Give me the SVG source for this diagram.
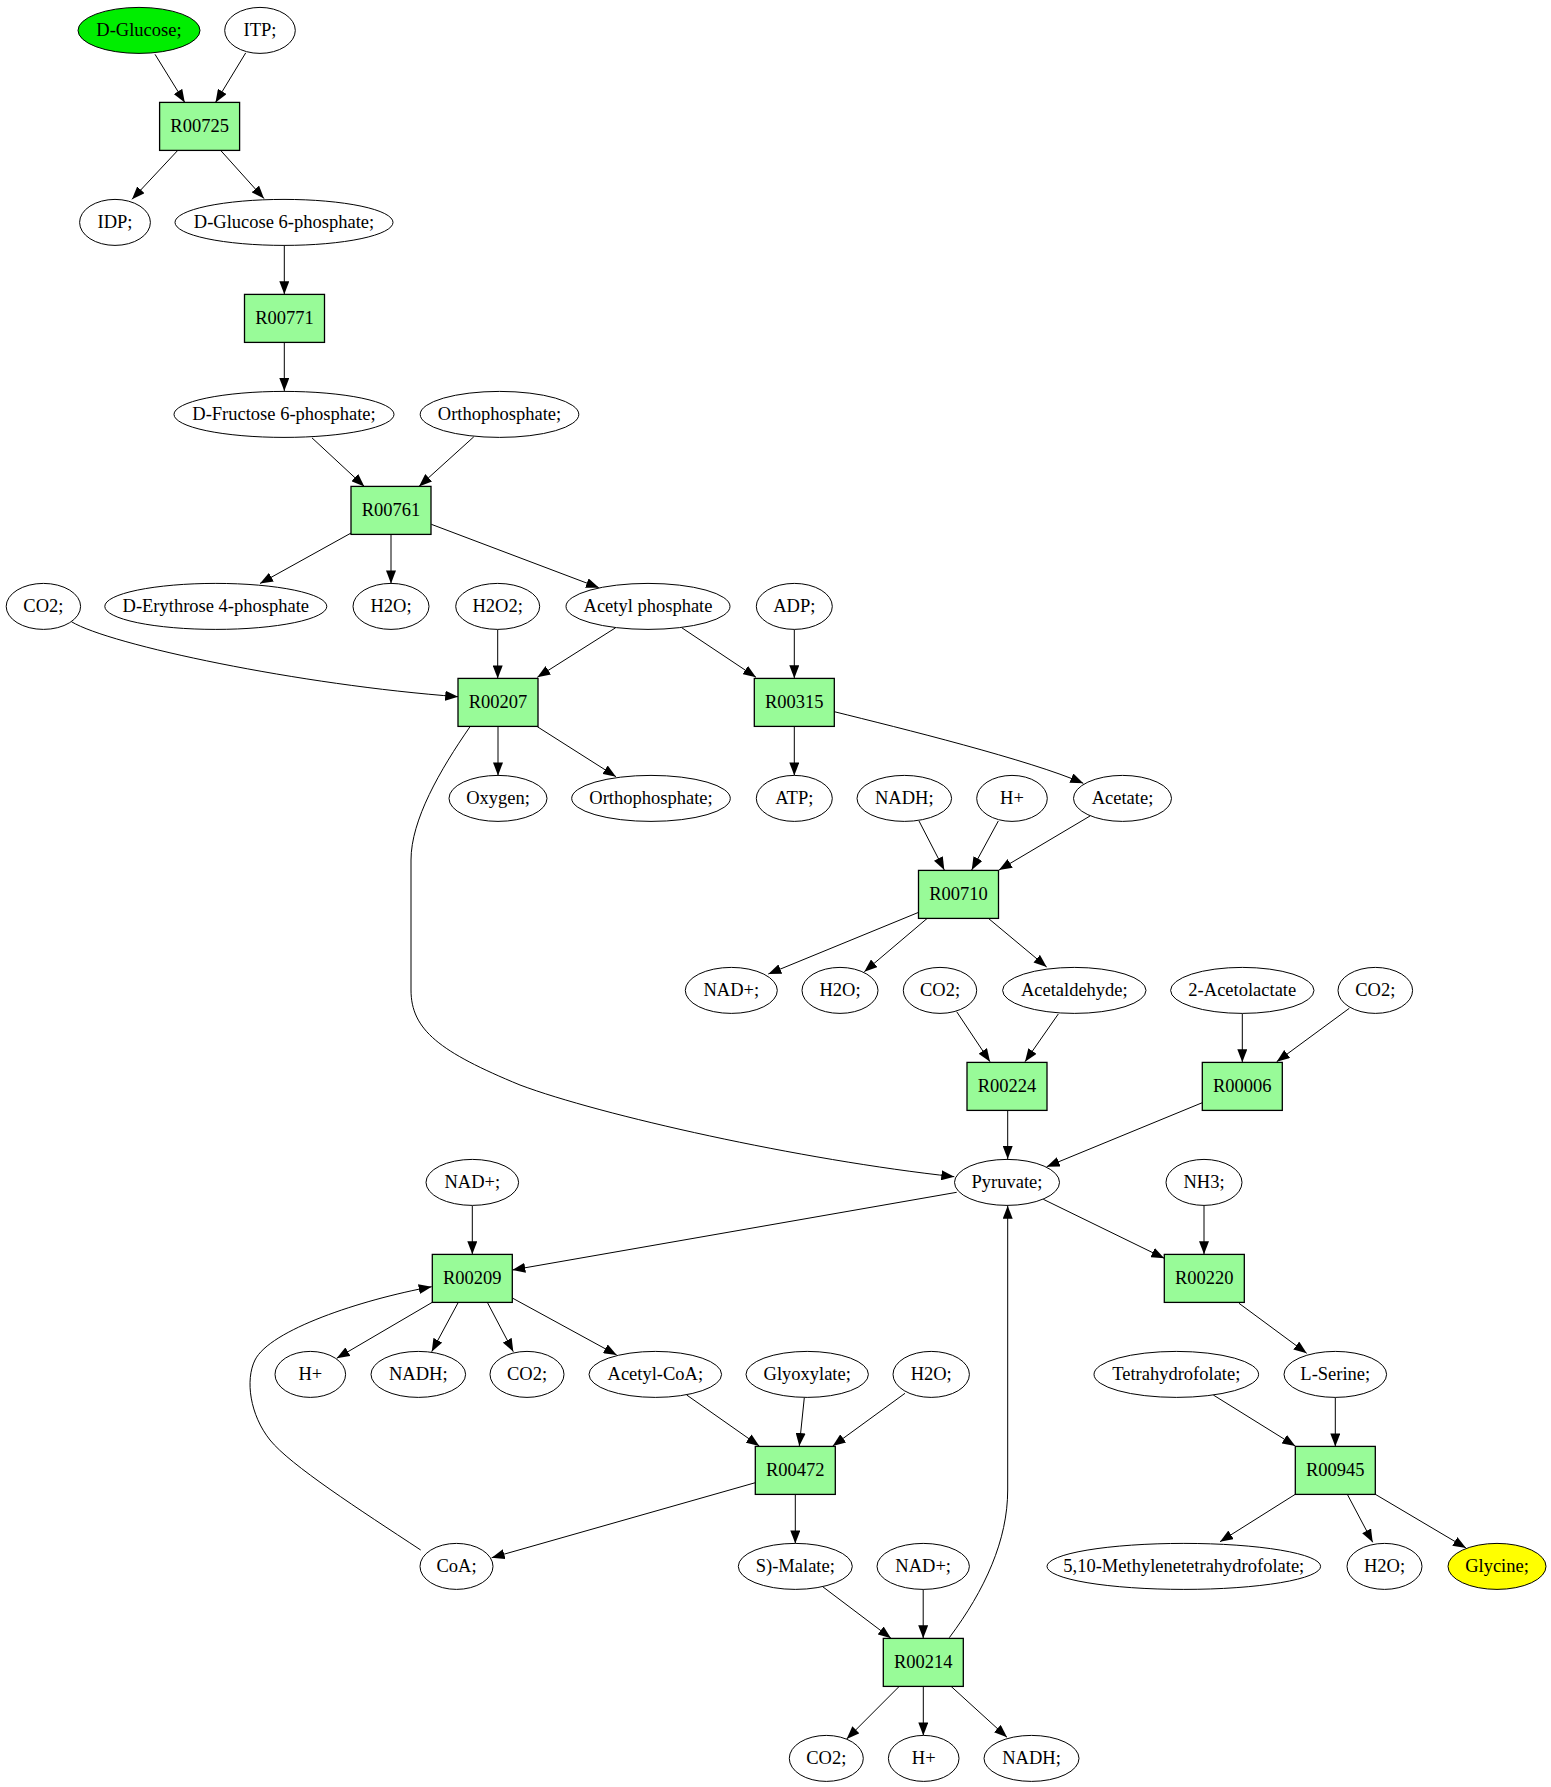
<svg xmlns="http://www.w3.org/2000/svg" width="1551" height="1787" viewBox="0 0 1551 1787">
<style>
.e{fill:#ffffff;stroke:#000;stroke-width:1}
.b{fill:#98fb98;stroke:#000;stroke-width:1.3}
.t{font-family:"Liberation Serif","Times New Roman",serif;font-size:18.5px;text-anchor:middle;fill:#000}
.c{fill:none;stroke:#000;stroke-width:1;marker-end:url(#arr)}
</style>
<defs>
<marker id="arr" markerWidth="14" markerHeight="10" refX="13" refY="5" orient="auto" markerUnits="userSpaceOnUse"><path d="M0,0 L13,5 L0,10 z" fill="#000"/></marker>
</defs>
<rect width="1551" height="1787" fill="#fff"/>
<g id="edges">
<path class="c" d="M155,54.3 L184.8,102.5"/>
<path class="c" d="M245.7,52.9 L215.5,102.5"/>
<path class="c" d="M177.2,151 L132,199.3"/>
<path class="c" d="M221.2,151 L264,198.6"/>
<path class="c" d="M284.3,245.7 L284.3,294.3"/>
<path class="c" d="M284.3,342.9 L284.3,391"/>
<path class="c" d="M312,437.9 L364.3,486.4"/>
<path class="c" d="M473.8,436.8 L419,486.4"/>
<path class="c" d="M351.3,532.9 L260,583.5"/>
<path class="c" d="M391,534.4 L391,583.4"/>
<path class="c" d="M431.3,524.3 L599,587.7"/>
<path class="c" d="M71.4,621.7 C110,645 300,685 458.2,696.7"/>
<path class="c" d="M497.7,629.4 L497.7,678.4"/>
<path class="c" d="M615.7,627.7 L537.3,677.3"/>
<path class="c" d="M681.7,627.7 L756,677.3"/>
<path class="c" d="M794.3,629.4 L794.3,678.3"/>
<path class="c" d="M498,726.4 L498,775.4"/>
<path class="c" d="M537.3,726.7 L616,776.7"/>
<path class="c" d="M470,726.7 C440,770 411,820 411,860 L411,990 C411,1030 440,1052 520,1085 C600,1115 800,1160 954.3,1176.7"/>
<path class="c" d="M794.3,726.4 L794.3,775.4"/>
<path class="c" d="M834.3,711.7 C900,728 1030,760 1083.3,783.3"/>
<path class="c" d="M919,821 L944.3,870"/>
<path class="c" d="M998.3,821 L971.7,870"/>
<path class="c" d="M1090,816 L999,870"/>
<path class="c" d="M918.7,912.3 L768.3,974"/>
<path class="c" d="M927.3,918.3 L864.3,971.7"/>
<path class="c" d="M988.3,918.3 L1046.7,967"/>
<path class="c" d="M956.7,1011.7 L990,1061.7"/>
<path class="c" d="M1058.3,1014 L1025,1061.7"/>
<path class="c" d="M1242.3,1013.4 L1242.3,1062.3"/>
<path class="c" d="M1349.3,1008.3 L1276.7,1061.7"/>
<path class="c" d="M1007.7,1110.3 L1007.7,1159"/>
<path class="c" d="M1202.3,1102.7 L1046.7,1166.7"/>
<path class="c" d="M472.3,1205.7 L472.3,1254.3"/>
<path class="c" d="M956.7,1192.3 L512.3,1270"/>
<path class="c" d="M1043.3,1199.3 L1164.3,1258.3"/>
<path class="c" d="M1204,1205.7 L1204,1254.3"/>
<path class="c" d="M432.3,1302.3 L336.7,1358.3"/>
<path class="c" d="M458.3,1302.3 L431.7,1351.7"/>
<path class="c" d="M487.3,1302.3 L513.3,1351.7"/>
<path class="c" d="M512.3,1298 L616.7,1355"/>
<path class="c" d="M686.7,1395 L759.3,1446"/>
<path class="c" d="M804.3,1397.7 L799.3,1446"/>
<path class="c" d="M905,1393.3 L832.7,1446"/>
<path class="c" d="M755.3,1482.7 L491.7,1557.7"/>
<path class="c" d="M795.3,1494.4 L795.3,1543.4"/>
<path class="c" d="M420.7,1550 C360,1510 290,1465 270,1440 C250,1415 245,1380 255,1360 C270,1330 360,1300 431.7,1286.7"/>
<path class="c" d="M822.7,1586.7 L891,1638.3"/>
<path class="c" d="M923.2,1589.4 L923.2,1638.3"/>
<path class="c" d="M949.3,1637.7 C985,1590 1007.7,1540 1007.7,1490 L1007.7,1205.7"/>
<path class="c" d="M899.3,1686.3 L846.7,1739"/>
<path class="c" d="M923.3,1686.4 L923.3,1735.4"/>
<path class="c" d="M951,1686.3 L1007,1737.3"/>
<path class="c" d="M1213.3,1395 L1295.3,1446"/>
<path class="c" d="M1335.3,1397.4 L1335.3,1446.4"/>
<path class="c" d="M1295.3,1494.3 L1220,1541.7"/>
<path class="c" d="M1347.3,1494.3 L1372.7,1542.3"/>
<path class="c" d="M1375.3,1494.3 L1466,1548"/>
<path class="c" d="M1239,1303.3 L1306.7,1353.3"/>
</g>
<g id="n_glucose"><ellipse cx="139" cy="30.4" rx="61" ry="23" fill="#00ee00" stroke="#000"/><text class="t" x="139" y="36.4">D-Glucose;</text></g>
<g id="n_itp"><ellipse class="e" cx="260" cy="30.4" rx="35.3" ry="23"/><text class="t" x="260" y="36.4">ITP;</text></g>
<g id="R00725"><rect class="b" x="159.6" y="102.4" width="80" height="48"/><text class="t" x="199.6" y="132.4">R00725</text></g>
<g id="n_idp"><ellipse class="e" cx="115" cy="222.4" rx="35.4" ry="23"/><text class="t" x="115" y="228.4">IDP;</text></g>
<g id="n_g6p"><ellipse class="e" cx="284" cy="222.4" rx="109" ry="23"/><text class="t" x="284" y="228.4">D-Glucose 6-phosphate;</text></g>
<g id="R00771"><rect class="b" x="244.5" y="294.4" width="80" height="48"/><text class="t" x="284.5" y="324.4">R00771</text></g>
<g id="n_f6p"><ellipse class="e" cx="284" cy="414.4" rx="110" ry="23"/><text class="t" x="284" y="420.4">D-Fructose 6-phosphate;</text></g>
<g id="n_pi1"><ellipse class="e" cx="499.5" cy="414.4" rx="79.3" ry="23"/><text class="t" x="499.5" y="420.4">Orthophosphate;</text></g>
<g id="R00761"><rect class="b" x="351" y="486.4" width="80" height="48"/><text class="t" x="391" y="516.4">R00761</text></g>
<g id="n_co2a"><ellipse class="e" cx="43.4" cy="606.4" rx="37.2" ry="23"/><text class="t" x="43.4" y="612.4">CO2;</text></g>
<g id="n_e4p"><ellipse class="e" cx="215.8" cy="606.4" rx="111" ry="23"/><text class="t" x="215.8" y="612.4">D-Erythrose 4-phosphate</text></g>
<g id="n_h2oa"><ellipse class="e" cx="391" cy="606.4" rx="38" ry="23"/><text class="t" x="391" y="612.4">H2O;</text></g>
<g id="n_h2o2"><ellipse class="e" cx="497.7" cy="606.4" rx="42" ry="23"/><text class="t" x="497.7" y="612.4">H2O2;</text></g>
<g id="n_acp"><ellipse class="e" cx="648" cy="606.4" rx="82" ry="23"/><text class="t" x="648" y="612.4">Acetyl phosphate</text></g>
<g id="n_adp"><ellipse class="e" cx="794.3" cy="606.4" rx="38" ry="23"/><text class="t" x="794.3" y="612.4">ADP;</text></g>
<g id="R00207"><rect class="b" x="458" y="678.4" width="80" height="48"/><text class="t" x="498" y="708.4">R00207</text></g>
<g id="R00315"><rect class="b" x="754.3" y="678.4" width="80" height="48"/><text class="t" x="794.3" y="708.4">R00315</text></g>
<g id="n_o2"><ellipse class="e" cx="498" cy="798.4" rx="49" ry="23"/><text class="t" x="498" y="804.4">Oxygen;</text></g>
<g id="n_pi2"><ellipse class="e" cx="651" cy="798.4" rx="79.3" ry="23"/><text class="t" x="651" y="804.4">Orthophosphate;</text></g>
<g id="n_atp"><ellipse class="e" cx="794.3" cy="798.4" rx="38" ry="23"/><text class="t" x="794.3" y="804.4">ATP;</text></g>
<g id="n_nadha"><ellipse class="e" cx="904.3" cy="798.4" rx="47.3" ry="23"/><text class="t" x="904.3" y="804.4">NADH;</text></g>
<g id="n_ha"><ellipse class="e" cx="1012" cy="798.4" rx="35.3" ry="23"/><text class="t" x="1012" y="804.4">H+</text></g>
<g id="n_acetate"><ellipse class="e" cx="1122.5" cy="798.4" rx="49" ry="23"/><text class="t" x="1122.5" y="804.4">Acetate;</text></g>
<g id="R00710"><rect class="b" x="918.5" y="870.4" width="80" height="48"/><text class="t" x="958.5" y="900.4">R00710</text></g>
<g id="n_nada"><ellipse class="e" cx="731.3" cy="990.4" rx="46" ry="23"/><text class="t" x="731.3" y="996.4">NAD+;</text></g>
<g id="n_h2ob"><ellipse class="e" cx="840" cy="990.4" rx="38" ry="23"/><text class="t" x="840" y="996.4">H2O;</text></g>
<g id="n_co2b"><ellipse class="e" cx="940" cy="990.4" rx="36.7" ry="23"/><text class="t" x="940" y="996.4">CO2;</text></g>
<g id="n_acald"><ellipse class="e" cx="1074.3" cy="990.4" rx="71.7" ry="23"/><text class="t" x="1074.3" y="996.4">Acetaldehyde;</text></g>
<g id="n_acl"><ellipse class="e" cx="1242.3" cy="990.4" rx="71.7" ry="23"/><text class="t" x="1242.3" y="996.4">2-Acetolactate</text></g>
<g id="n_co2c"><ellipse class="e" cx="1375.3" cy="990.4" rx="37.3" ry="23"/><text class="t" x="1375.3" y="996.4">CO2;</text></g>
<g id="R00224"><rect class="b" x="967" y="1062.4" width="80" height="48"/><text class="t" x="1007" y="1092.4">R00224</text></g>
<g id="R00006"><rect class="b" x="1202.3" y="1062.4" width="80" height="48"/><text class="t" x="1242.3" y="1092.4">R00006</text></g>
<g id="n_nadb"><ellipse class="e" cx="472.3" cy="1182.4" rx="46.3" ry="23"/><text class="t" x="472.3" y="1188.4">NAD+;</text></g>
<g id="n_pyr"><ellipse class="e" cx="1007" cy="1182.4" rx="52.5" ry="23"/><text class="t" x="1007" y="1188.4">Pyruvate;</text></g>
<g id="n_nh3"><ellipse class="e" cx="1204" cy="1182.4" rx="38" ry="23"/><text class="t" x="1204" y="1188.4">NH3;</text></g>
<g id="R00209"><rect class="b" x="432.3" y="1254.4" width="80" height="48"/><text class="t" x="472.3" y="1284.4">R00209</text></g>
<g id="R00220"><rect class="b" x="1164.3" y="1254.4" width="80" height="48"/><text class="t" x="1204.3" y="1284.4">R00220</text></g>
<g id="n_hb"><ellipse class="e" cx="310.3" cy="1374.4" rx="35.3" ry="23"/><text class="t" x="310.3" y="1380.4">H+</text></g>
<g id="n_nadhb"><ellipse class="e" cx="418.3" cy="1374.4" rx="47.3" ry="23"/><text class="t" x="418.3" y="1380.4">NADH;</text></g>
<g id="n_co2d"><ellipse class="e" cx="527" cy="1374.4" rx="37" ry="23"/><text class="t" x="527" y="1380.4">CO2;</text></g>
<g id="n_accoa"><ellipse class="e" cx="655.3" cy="1374.4" rx="66.3" ry="23"/><text class="t" x="655.3" y="1380.4">Acetyl-CoA;</text></g>
<g id="n_glyox"><ellipse class="e" cx="807.2" cy="1374.4" rx="61.2" ry="23"/><text class="t" x="807.2" y="1380.4">Glyoxylate;</text></g>
<g id="n_h2oc"><ellipse class="e" cx="931.2" cy="1374.4" rx="38.2" ry="23"/><text class="t" x="931.2" y="1380.4">H2O;</text></g>
<g id="n_thf"><ellipse class="e" cx="1176.3" cy="1374.4" rx="82.3" ry="23"/><text class="t" x="1176.3" y="1380.4">Tetrahydrofolate;</text></g>
<g id="n_ser"><ellipse class="e" cx="1335.3" cy="1374.4" rx="51.3" ry="23"/><text class="t" x="1335.3" y="1380.4">L-Serine;</text></g>
<g id="R00472"><rect class="b" x="755.3" y="1446.4" width="80" height="48"/><text class="t" x="795.3" y="1476.4">R00472</text></g>
<g id="R00945"><rect class="b" x="1295.3" y="1446.4" width="80" height="48"/><text class="t" x="1335.3" y="1476.4">R00945</text></g>
<g id="n_coa"><ellipse class="e" cx="456.5" cy="1566.4" rx="36.5" ry="23"/><text class="t" x="456.5" y="1572.4">CoA;</text></g>
<g id="n_mal"><ellipse class="e" cx="795.3" cy="1566.4" rx="57" ry="23"/><text class="t" x="795.3" y="1572.4">S)-Malate;</text></g>
<g id="n_nadc"><ellipse class="e" cx="923.2" cy="1566.4" rx="46.2" ry="23"/><text class="t" x="923.2" y="1572.4">NAD+;</text></g>
<g id="n_mthf"><ellipse class="e" cx="1183.8" cy="1566.4" rx="136.8" ry="23"/><text class="t" x="1183.8" y="1572.4">5,10-Methylenetetrahydrofolate;</text></g>
<g id="n_h2od"><ellipse class="e" cx="1384.5" cy="1566.4" rx="37.5" ry="23"/><text class="t" x="1384.5" y="1572.4">H2O;</text></g>
<g id="n_gly"><ellipse cx="1497" cy="1566.4" rx="49" ry="23" fill="#ffff00" stroke="#000"/><text class="t" x="1497" y="1572.4">Glycine;</text></g>
<g id="R00214"><rect class="b" x="883.3" y="1638.4" width="80" height="48"/><text class="t" x="923.3" y="1668.4">R00214</text></g>
<g id="n_co2e"><ellipse class="e" cx="826.3" cy="1758.4" rx="37" ry="23"/><text class="t" x="826.3" y="1764.4">CO2;</text></g>
<g id="n_hc"><ellipse class="e" cx="923.7" cy="1758.4" rx="35.3" ry="23"/><text class="t" x="923.7" y="1764.4">H+</text></g>
<g id="n_nadhc"><ellipse class="e" cx="1031.5" cy="1758.4" rx="47.5" ry="23"/><text class="t" x="1031.5" y="1764.4">NADH;</text></g>
</svg>
